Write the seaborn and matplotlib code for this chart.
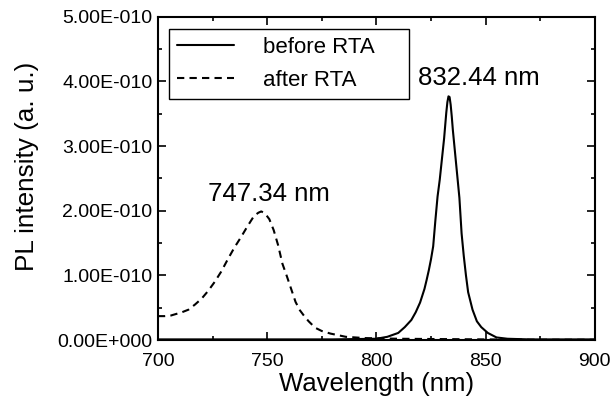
import numpy as np
import pandas as pd
import matplotlib
matplotlib.use("Agg")
import matplotlib.pyplot as plt
from matplotlib.ticker import FuncFormatter
import seaborn as sns

# values, intensity in units of 1e-10
SCALE = 1e-10

wl_before = [700, 720, 740, 760, 780, 790, 800, 805, 810, 813, 816, 818, 820, 822,
             823, 824, 825, 826, 827, 828, 829, 830, 831, 831.5, 832, 832.5, 833,
             833.5, 834, 834.5, 835, 836, 837, 838, 839, 840, 841, 842, 844, 846,
             848, 851, 855, 860, 870, 880, 890, 900]
pl_before = [0.01, 0.01, 0.01, 0.01, 0.01, 0.015, 0.02, 0.05, 0.11, 0.20, 0.31, 0.43,
             0.58, 0.79, 0.93, 1.08, 1.25, 1.45, 1.85, 2.22, 2.48, 2.80, 3.12, 3.32,
             3.52, 3.68, 3.77, 3.76, 3.64, 3.46, 3.25, 2.90, 2.55, 2.20, 1.65, 1.30,
             1.00, 0.74, 0.47, 0.29, 0.20, 0.11, 0.04, 0.02, 0.01, 0.01, 0.01, 0.01]

wl_after = [700, 703, 706, 708, 711, 714, 717, 720, 723, 726, 729, 732, 735, 738,
            741, 744, 746, 747.3, 749, 751, 753, 755, 757, 759, 761, 763, 765, 767,
            769, 772, 775, 779, 786, 795, 810, 830, 850, 875, 900]
pl_after = [0.37, 0.37, 0.38, 0.40, 0.43, 0.47, 0.55, 0.64, 0.76, 0.90, 1.06, 1.25,
            1.43, 1.59, 1.76, 1.92, 1.97, 1.99, 1.96, 1.87, 1.70, 1.47, 1.18, 0.99,
            0.79, 0.59, 0.46, 0.37, 0.29, 0.19, 0.14, 0.10, 0.05, 0.03, 0.02, 0.015,
            0.01, 0.005, 0.005]

labels = ["before RTA", "after RTA"]
peak_text = ["832.44 nm", "747.34 nm"]

x_major = [700, 750, 800, 850, 900]
x_minor = [725, 775, 825, 875]
y_major = [0, 1, 2, 3, 4, 5]
y_minor = [0.5, 1.5, 2.5, 3.5, 4.5]

df = pd.concat([
    pd.DataFrame({"wavelength": wl_before, "intensity": np.array(pl_before) * SCALE,
                  "sample": labels[0]}),
    pd.DataFrame({"wavelength": wl_after, "intensity": np.array(pl_after) * SCALE,
                  "sample": labels[1]}),
])

sns.set_style("ticks")
plt.rcParams["font.family"] = ["Liberation Sans", "DejaVu Sans"]
plt.rcParams["text.color"] = "black"
plt.rcParams["axes.labelcolor"] = "black"
plt.rcParams["xtick.color"] = "black"
plt.rcParams["ytick.color"] = "black"

fig = plt.figure(figsize=(6.12, 4.01), dpi=100)
ax = fig.add_axes([0.258, 0.152, 0.714, 0.806])

sns.lineplot(data=df, x="wavelength", y="intensity", style="sample",
             style_order=labels, dashes={labels[0]: "", labels[1]: (3.5, 2.5)},
             color="black", linewidth=1.5, ax=ax)

ax.set_xlim(700, 900)
ax.set_ylim(0, 5e-10)
ax.set_xticks(x_major)
ax.set_xticks(x_minor, minor=True)
ax.set_yticks([v * SCALE for v in y_major])
ax.set_yticks([v * SCALE for v in y_minor], minor=True)


def sci(v, pos):
    if abs(v) < 1e-20:
        return "0.00E+000"
    e = int(np.floor(np.log10(abs(v)) + 1e-9))
    return f"{v / 10**e:.2f}E{e:+04d}"


ax.yaxis.set_major_formatter(FuncFormatter(sci))
ax.tick_params(which="both", direction="in", top=True, right=True, width=1.2,
               colors="black")
ax.tick_params(which="major", length=6, labelsize=14)
ax.tick_params(which="minor", length=3)
ax.tick_params(axis="x", which="major", pad=9)
ax.tick_params(axis="y", which="major", pad=4)
for s in ax.spines.values():
    s.set_linewidth(1.5)
    s.set_color("black")

ax.set_xlabel("Wavelength (nm)", fontsize=18.5, labelpad=2)
ax.set_ylabel("PL intensity (a. u.)", fontsize=18.8)
ax.yaxis.set_label_coords(-0.272, 0.536)

ax.text(847, 4.06e-10, peak_text[0], fontsize=18.5, ha="center", va="center")
ax.text(750.8, 2.26e-10, peak_text[1], fontsize=18.5, ha="center", va="center")

leg = ax.legend(loc="upper left", bbox_to_anchor=(0.0252, 0.5, 0.549, 0.463),
                mode="expand", fontsize=16, frameon=True, fancybox=False,
                edgecolor="black", framealpha=1, handlelength=2.6,
                handletextpad=1.3, labelspacing=0.55, borderpad=0.35,
                borderaxespad=0)
leg.get_frame().set_linewidth(1.0)

fig.savefig("out.png", dpi=100)
